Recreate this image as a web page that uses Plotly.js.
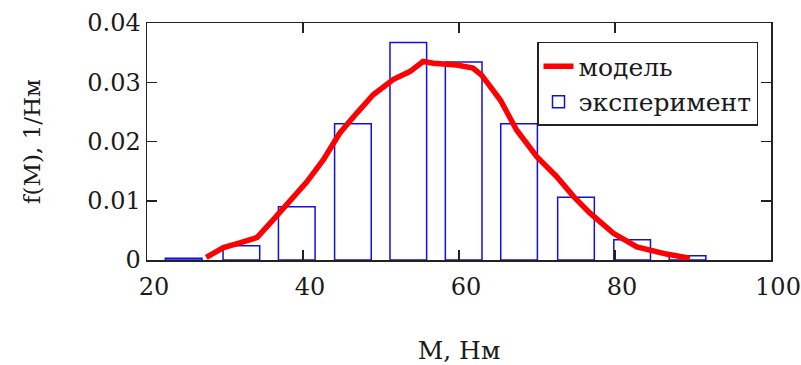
<!DOCTYPE html>
<html>
<head>
<meta charset="utf-8">
<script src="https://cdn.plot.ly/plotly-3.0.1.min.js"></script>
<style>html,body{margin:0;padding:0;background:#fff;}#chart{width:801px;height:365px;}</style>
</head>
<body>
<div id="chart"></div>
<script>
// Histogram (experiment): bin centres, heights
const binCenters = [24.7, 32.1, 39.2, 46.4, 53.5, 60.6, 67.7, 75.0, 82.2, 89.3];
const binHeights = [0.0003, 0.0024, 0.0090, 0.0230, 0.0367, 0.0334, 0.0230, 0.0106, 0.0034, 0.0007];
const binWidth = 4.7;

// Model density curve
const modelX = [27.6, 29.8, 31.9, 34.1, 36.2, 38.3, 40.5, 42.6, 44.7, 46.9, 49.0, 51.6, 53.7, 55.4, 56.7, 59.7, 61.8, 62.9, 65.3, 67.4, 70.0, 72.5, 74.7, 76.8, 79.8, 82.8, 86.6, 89.6];
const modelY = [0.00045, 0.0021, 0.0029, 0.0038, 0.0068, 0.0101, 0.0132, 0.0169, 0.0214, 0.0248, 0.0279, 0.0305, 0.0318, 0.0335, 0.0332, 0.0329, 0.0324, 0.0312, 0.0270, 0.0219, 0.0174, 0.0141, 0.0107, 0.0079, 0.0045, 0.0022, 0.0010, 0.0003];

// Axis ticks
const xTicks = [20, 40, 60, 80, 100];
const yTicks = [0, 0.01, 0.02, 0.03, 0.04];
const yTickText = ["0", "0.01", "0.02", "0.03", "0.04"];

const FONT = "DejaVu Serif";
const TXT = "#1a1a1a";
const FS = 24;

const traces = [
  {
    type: "scatter", mode: "lines", name: "модель",
    x: modelX, y: modelY,
    line: {color: "#ff0000", width: 5.5}
  },
  {
    type: "bar", name: "эксперимент",
    x: binCenters, y: binHeights,
    width: binCenters.map(() => binWidth),
    marker: {color: "rgba(255,255,255,0)", line: {color: "#1010e0", width: 1.5}}
  }
];

const layout = {
  width: 801, height: 365,
  margin: {l: 147, r: 30, t: 23, b: 105},
  paper_bgcolor: "#fff", plot_bgcolor: "#fff",
  font: {family: FONT, size: FS, color: TXT},
  showlegend: true,
  legend: {
    x: 0.625, y: 0.92, xanchor: "left", yanchor: "top",
    bgcolor: "#fff", bordercolor: "#222", borderwidth: 1.5,
    font: {family: FONT, size: 25, color: TXT},
    traceorder: "normal", tracegroupgap: 0
  },
  xaxis: {
    range: [20, 100], tickvals: xTicks,
    ticks: "inside", ticklen: 10, tickwidth: 1.5, tickcolor: "#222",
    showline: true, linecolor: "#222", linewidth: 1.5, mirror: "ticks",
    showgrid: false, zeroline: false,
    ticklabelshift: 7, ticklabelstandoff: 5,
    tickfont: {family: FONT, size: FS, color: TXT},
    title: {text: "M, Нм", font: {family: FONT, size: 25, color: TXT}, standoff: 44}
  },
  yaxis: {
    range: [0, 0.04], tickvals: yTicks, ticktext: yTickText,
    ticks: "inside", ticklen: 10, tickwidth: 1.5, tickcolor: "#222",
    showline: true, linecolor: "#222", linewidth: 1.5, mirror: "ticks",
    showgrid: false, zeroline: false,
    tickfont: {family: FONT, size: FS, color: TXT},
    title: {text: "f(M), 1/Нм", font: {family: FONT, size: 23, color: TXT}, standoff: 40}
  },
  bargap: 0
};

Plotly.newPlot("chart", traces, layout, {displayModeBar: false, staticPlot: true});
</script>
</body>
</html>
